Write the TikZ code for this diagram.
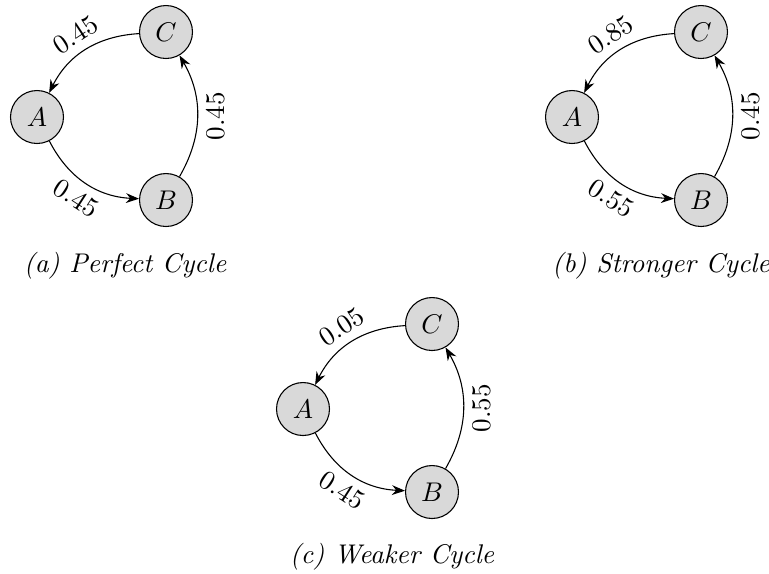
\documentclass[tikz,border=0pt]{standalone}
\usepackage{tikz}
\usetikzlibrary{arrows.meta,positioning}

\begin{document}
\begin{tikzpicture}[x=0.37pt,y=0.37pt,
  vtx/.style={draw,circle,fill=gray!30,minimum size=19.6pt,inner sep=0pt},
  edge/.style={-{Stealth},bend right=30},
  subcap/.style={font=\itshape}]
  \useasboundingbox (0,0) rectangle (769,-573);
  % (a)
  \node[vtx] (a1) at (37,-117) {$A$};
  \node[vtx] (c1) at (166,-32) {$C$};
  \node[vtx] (b1) at (166,-200) {$B$};
  \draw[edge] (a1) to node[sloped,below] {$0.45$} (b1);
  \draw[edge] (b1) to node[sloped,below] {$0.45$} (c1);
  \draw[edge] (c1) to node[sloped,above] {$0.45$} (a1);
  \node[subcap] (cpa) at (125,-266) {(a) Perfect Cycle};
  % (b)
  \node[vtx] (a2) at (572,-117) {$A$};
  \node[vtx] (c2) at (701,-32) {$C$};
  \node[vtx] (b2) at (701,-200) {$B$};
  \draw[edge] (a2) to node[sloped,below] {$0.55$} (b2);
  \draw[edge] (b2) to node[sloped,below] {$0.45$} (c2);
  \draw[edge] (c2) to node[sloped,above] {$0.85$} (a2);
  \node[subcap] (cpb) at (661,-266) {(b) Stronger Cycle};
  % (c)
  \node[vtx] (a3) at (303,-409) {$A$};
  \node[vtx] (c3) at (432,-324) {$C$};
  \node[vtx] (b3) at (432,-492) {$B$};
  \draw[edge] (a3) to node[sloped,below] {$0.45$} (b3);
  \draw[edge] (b3) to node[sloped,below] {$0.55$} (c3);
  \draw[edge] (c3) to node[sloped,above] {$0.05$} (a3);
  \node[subcap] (cpc) at (392,-557) {(c) Weaker Cycle};
\end{tikzpicture}
\end{document}
